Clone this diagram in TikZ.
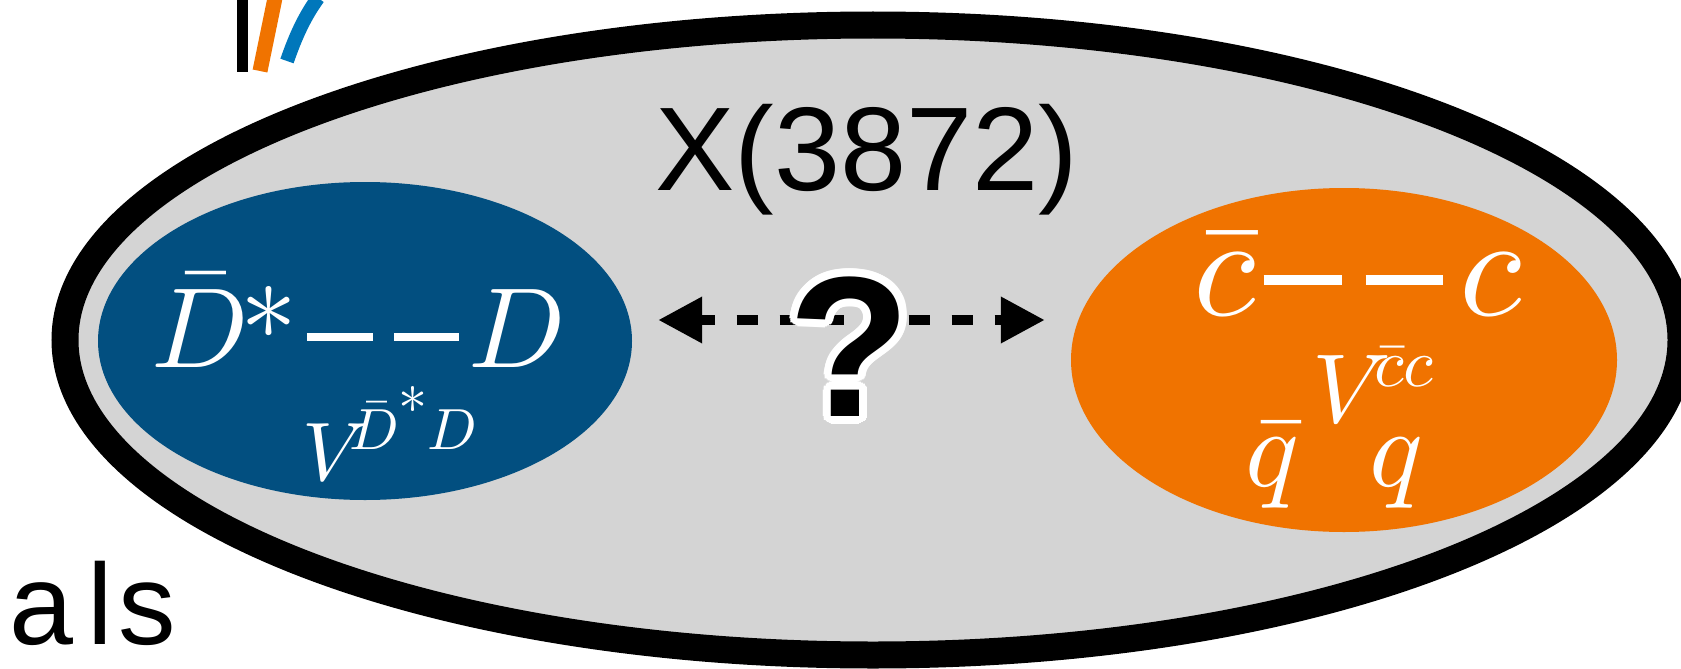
\documentclass[tikz,border=0pt]{standalone}
\usepackage{amsmath}
\usepackage{fontspec}
\setmainfont{Liberation Sans}
\DeclareFontShape{OML}{cmm}{m}{it}{<->cmmi10}{}
\DeclareFontShape{OMS}{cmsy}{m}{n}{<->cmsy10}{}
\DeclareFontShape{OT1}{cmr}{m}{n}{<->cmr10}{}
\DeclareFontShape{OMX}{cmex}{m}{n}{<->cmex10}{}
\newcommand{\bstar}{\raisebox{0.245em}{$\ast$}}
\newcommand{\sstar}{\text{\raisebox{0.62em}{$\ast$}}}
\usetikzlibrary{arrows.meta,calc,shapes.geometric}
\definecolor{bgray}{RGB}{212,212,212}
\definecolor{dblue}{RGB}{2,79,128}
\definecolor{orng}{RGB}{240,115,0}
\definecolor{lblue}{RGB}{0,119,187}
\newcommand{\fsz}[1]{\fontsize{#1}{#1}\selectfont}
\begin{document}
\begin{tikzpicture}[x=1pt,y=-1pt,
  lbl/.style={inner sep=0pt, anchor=base west, text=white},
  blob/.style={ellipse, inner sep=0pt},
  qmark/.style={inner sep=0pt, anchor=base, font=\fsz{200}\bfseries}]
\useasboundingbox (0,0) rectangle (1681,669);
\clip (0,0) rectangle (1681,669);
% top-left fragments
\fill[black] (237,0) rectangle (248,72);
\draw[orng, line width=15pt] (260,71) -- (275,-2);
\draw[lblue, line width=14pt] (287,61) .. controls (296,35) and (305,16) .. (318,-2);
% outer ellipse
\node[blob, draw=black, line width=27pt, fill=bgray, minimum width=1616, minimum height=630] (outer) at (873,340) {};
\node[blob, fill=dblue, minimum width=534, minimum height=318] (blue) at (365,341) {};
\node[blob, fill=orng, minimum width=546, minimum height=344] (orange) at (1344,360) {};
% title
\node[inner sep=0pt, anchor=base west, font=\fsz{119}] (title) at (655,190) {X(3872)};
\node[inner sep=0pt, anchor=base west, font=\fsz{115}] (als) at (9,644) {a\kern14pt l\kern6pt s};
% blue contents
\node[lbl, font=\fsz{114}] (Dbar) at (151,367) {$\bar{D}$\kern-8pt\bstar};
\node[lbl, font=\fsz{114}] (D) at (468,367) {$D$};
\draw[white, line width=8pt, dash pattern=on 66pt off 21pt] ([xshift=9pt,yshift=30pt]Dbar.base east) -- ([xshift=-9pt,yshift=30pt]D.base west);
\node[lbl, font=\fsz{83}] (VD) at (302,480) {$V^{\kern-20pt\bar{D}\sstar D}$};
% orange contents
\node[lbl, font=\fsz{144}] (cbar) at (1193,315) {$\bar{c}$};
\node[lbl, font=\fsz{144}] (c) at (1459,315) {$c$};
\draw[white, line width=10pt, dash pattern=on 78pt off 24pt] ([xshift=8pt,yshift=35pt]cbar.base east) -- ([xshift=-16pt,yshift=35pt]c.base west);
\node[lbl, font=\fsz{98}] (Vc) at (1312,422) {$V^{\kern-17pt\bar{c}c}$};
\node[lbl, font=\fsz{112}] (qbar) at (1245,486) {$\bar{q}$};
\node[lbl, font=\fsz{112}] (q) at (1369,486) {$q$};
% arrow
\draw[line width=10pt, dash pattern=on 21pt off 22pt, dash phase=6pt,
  {Triangle[length=44pt,width=44pt]}-{Triangle[length=44pt,width=44pt]}]
  ($(blue.east)+(26,-21)$) -- ($(orange.west)+(-26,-40)$);
% question mark with white outline
\foreach \a in {0,15,...,345}
  \node[qmark, text=white] at ($(850,416)+(\a:8)$) {?};
\node[qmark, text=black] (qm) at (850,416) {?};
\end{tikzpicture}
\end{document}
